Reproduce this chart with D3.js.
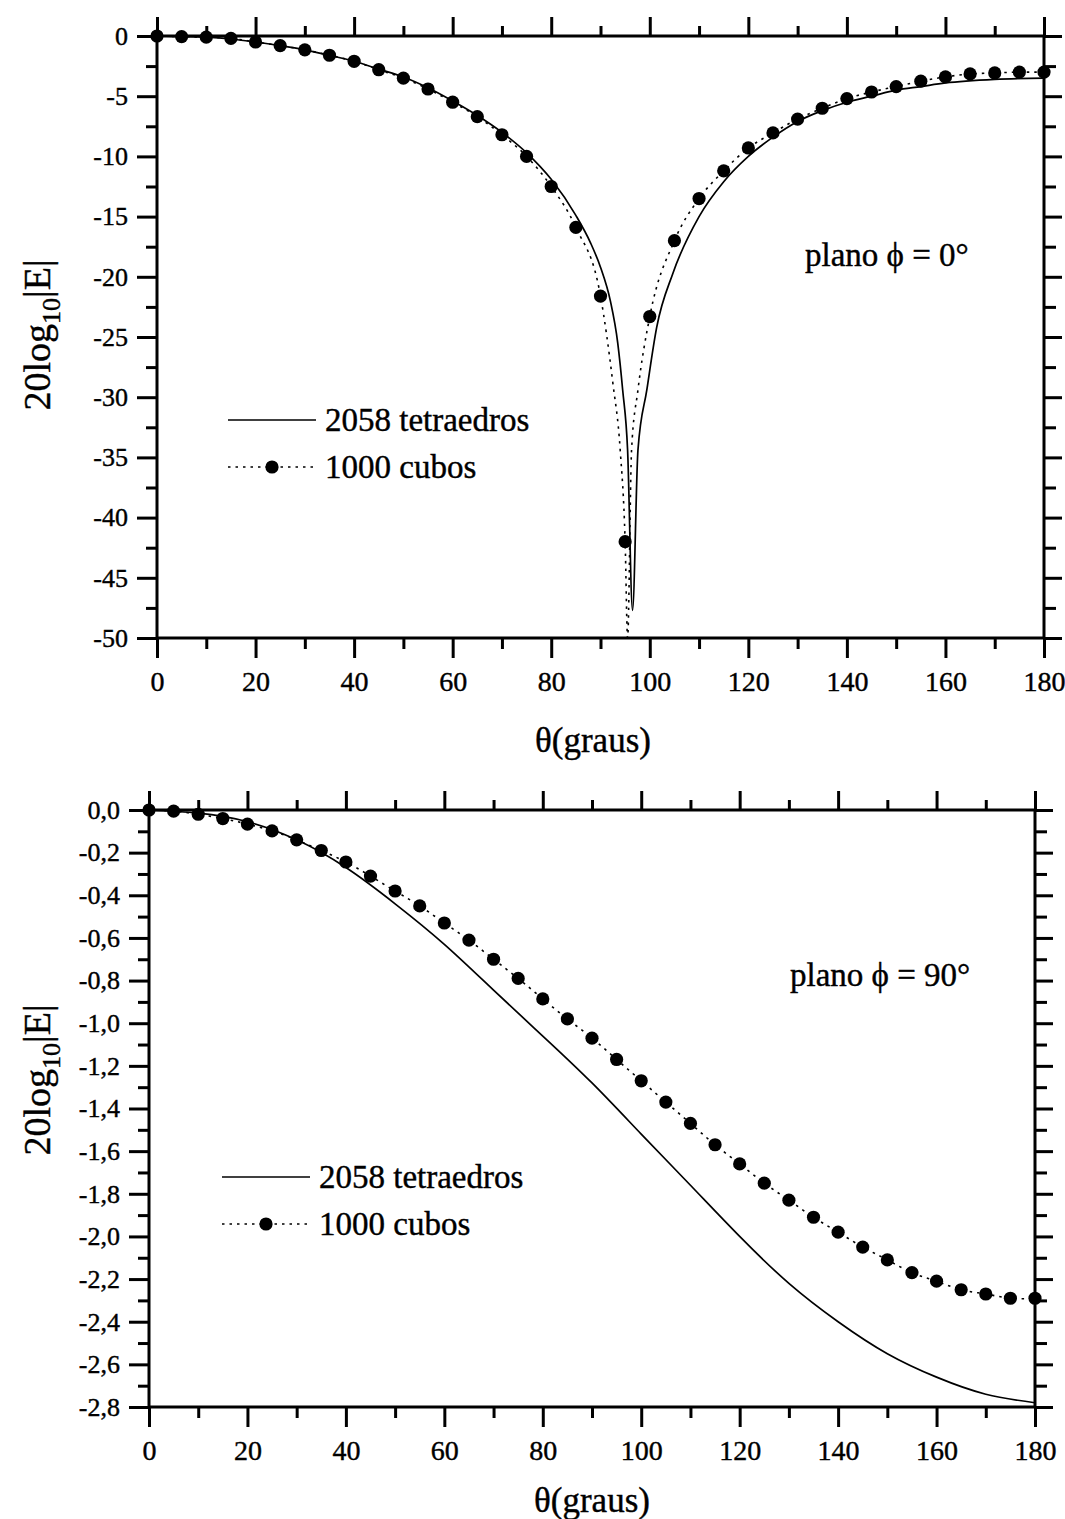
<!DOCTYPE html>
<html>
<head>
<meta charset="utf-8">
<script src="https://cdn.jsdelivr.net/npm/d3@7"></script>
<style>
  body { margin: 0; background: #fff; }
  svg { display: block; }
  text { font-family: "Liberation Serif", "Times New Roman", serif; fill: #000; }
</style>
</head>
<body>
<div id="chart"></div>
<script>
// ---------------------------------------------------------------
// Field pattern, 20log10|E| vs theta — two planes, two meshes
// ---------------------------------------------------------------

// theta positions of the "1000 cubos" markers (every 5 degrees)
const markTheta = [0, 5, 10, 15, 20, 25, 30, 35, 40, 45, 50, 55, 60, 65, 70, 75, 80, 85, 90, 95,
  100, 105, 110, 115, 120, 125, 130, 135, 140, 145, 150, 155, 160, 165, 170, 175, 180];

// plane phi = 0  (top)
const topCubosMarks = [0, -0.05, -0.1, -0.2, -0.5, -0.8, -1.15, -1.6, -2.1, -2.8, -3.5, -4.4, -5.5, -6.7,
  -8.2, -10.0, -12.5, -15.9, -21.6, -42.0, -23.3, -17.0, -13.5, -11.2, -9.3, -8.05, -6.9, -6.0, -5.2,
  -4.65, -4.2, -3.75, -3.4, -3.15, -3.07, -3.0, -3.0];
// extra points of the dotted curve around the null
const topCubosDipTheta = [92.5, 94, 95.5, 96.3, 97.6];
const topCubosDipValue = [-28.8, -34.4, -50, -34.4, -29.4];

const topTetraTheta = [0, 5, 10, 15, 20, 25, 30, 35, 40, 45, 50, 55, 60, 65, 70, 75, 80, 85, 88, 90, 92,
  93.5, 94.5, 95.5, 96.5, 97.6, 99.4, 101.4, 104.7, 110, 115, 120, 125, 130, 135, 140, 145, 150, 155,
  160, 170, 180];
const topTetraValue = [0, -0.05, -0.1, -0.25, -0.5, -0.8, -1.15, -1.6, -2.1, -2.75, -3.4, -4.3, -5.4, -6.6,
  -8.0, -9.7, -11.9, -14.9, -17.2, -19.2, -22.0, -25.5, -29.4, -34.4, -47.7, -34.4, -29.4, -24.2, -19.7,
  -15.0, -12.1, -10.0, -8.4, -7.1, -6.2, -5.5, -5.0, -4.5, -4.2, -3.9, -3.6, -3.5];

// plane phi = 90  (bottom)
const botCubosMarks = [0, -0.005, -0.02, -0.04, -0.066, -0.098, -0.14, -0.19, -0.244, -0.31, -0.38, -0.45,
  -0.53, -0.61, -0.70, -0.79, -0.886, -0.98, -1.07, -1.17, -1.27, -1.37, -1.47, -1.57, -1.66, -1.75,
  -1.83, -1.91, -1.98, -2.05, -2.11, -2.17, -2.21, -2.25, -2.27, -2.29, -2.29];

const botTetraTheta = [0, 10, 20, 30, 40, 50, 60, 70, 80, 90, 100, 110, 120, 130, 140, 150, 160, 170, 180];
const botTetraValue = [0, -0.015, -0.055, -0.14, -0.27, -0.44, -0.63, -0.845, -1.06, -1.28, -1.52, -1.76,
  -2.0, -2.22, -2.40, -2.55, -2.66, -2.74, -2.78];

// ticks
const xTicks = [0, 20, 40, 60, 80, 100, 120, 140, 160, 180];
const topYTicks = [0, -5, -10, -15, -20, -25, -30, -35, -40, -45, -50];
const botYTicks = [0, -0.2, -0.4, -0.6, -0.8, -1.0, -1.2, -1.4, -1.6, -1.8, -2.0, -2.2, -2.4, -2.6, -2.8];

const seriesNames = ["2058 tetraedros", "1000 cubos"];

// ---------------------------------------------------------------
const width = 1065, height = 1519;
const svg = d3.select("#chart").append("svg")
  .attr("width", width)
  .attr("height", height);

const zip = (a, b) => a.map((t, i) => ({ t, v: b[i] }));
const midpoints = arr => arr.slice(1).map((d, i) => (d + arr[i]) / 2);

function drawPanel(p, idx) {
  const x = d3.scaleLinear().domain([0, 180]).range([p.left, p.right]);
  const y = d3.scaleLinear().domain([0, p.yTicks[p.yTicks.length - 1]]).range([p.top, p.bottom]);
  const g = svg.append("g");

  g.append("clipPath").attr("id", "clip" + idx)
    .append("rect")
    .attr("x", p.left).attr("y", p.top)
    .attr("width", p.right - p.left).attr("height", p.bottom - p.top);

  // ticks: major (long, labelled) and minor (short), on all four sides
  const xMinor = midpoints(xTicks);
  const yMinor = midpoints(p.yTicks);
  const noLabel = () => "";

  const axes = [
    [d3.axisBottom(x).tickValues(xTicks).tickSize(20).tickPadding(13).tickFormat(d => d), `translate(0,${p.bottom})`, "x"],
    [d3.axisBottom(x).tickValues(xMinor).tickSize(11).tickFormat(noLabel), `translate(0,${p.bottom})`],
    [d3.axisTop(x).tickValues(xTicks).tickSize(19).tickFormat(noLabel), `translate(0,${p.top})`],
    [d3.axisTop(x).tickValues(xMinor).tickSize(10).tickFormat(noLabel), `translate(0,${p.top})`],
    [d3.axisLeft(y).tickValues(p.yTicks).tickSize(20).tickPadding(9).tickFormat(p.fmt), `translate(${p.left},0)`, "y"],
    [d3.axisLeft(y).tickValues(yMinor).tickSize(11).tickFormat(noLabel), `translate(${p.left},0)`],
    [d3.axisRight(y).tickValues(p.yTicks).tickSize(18).tickFormat(noLabel), `translate(${p.right},0)`],
    [d3.axisRight(y).tickValues(yMinor).tickSize(12).tickFormat(noLabel), `translate(${p.right},0)`]
  ];
  axes.forEach(([ax, tr, kind]) => {
    const a = g.append("g").attr("transform", tr).call(ax);
    a.select(".domain").remove();
    a.selectAll("line").attr("stroke", "#000").attr("stroke-width", 3);
    a.selectAll("text")
      .style("font-size", kind === "x" ? "28px" : "26px")
      .attr("stroke", "#000").attr("stroke-width", 0.4);
  });

  // frame
  g.append("rect")
    .attr("x", p.left).attr("y", p.top)
    .attr("width", p.right - p.left).attr("height", p.bottom - p.top)
    .attr("fill", "none").attr("stroke", "#000").attr("stroke-width", 3);

  const line = d3.line().x(d => x(d.t)).y(d => y(d.v)).curve(p.curve);
  const plot = g.append("g").attr("clip-path", `url(#clip${idx})`);

  // 2058 tetraedros — solid
  plot.append("path")
    .datum(zip(p.tetraTheta, p.tetraValue))
    .attr("d", line)
    .attr("fill", "none").attr("stroke", "#000").attr("stroke-width", 1.7);

  // 1000 cubos — dotted with markers
  const marks = zip(markTheta, p.cubosMarks);
  const cubosLine = marks.concat(zip(p.dipTheta, p.dipValue)).sort((a, b) => a.t - b.t);
  plot.append("path")
    .datum(cubosLine)
    .attr("d", line)
    .attr("fill", "none").attr("stroke", "#000").attr("stroke-width", 1.6)
    .attr("stroke-dasharray", "2.5,5");

  g.append("g").selectAll("circle")
    .data(marks)
    .enter().append("circle")
    .attr("cx", d => x(d.t))
    .attr("cy", d => y(d.v))
    .attr("r", 6.6)
    .attr("fill", "#000");

  // axis titles
  g.append("text")
    .attr("x", p.titleX).attr("y", p.titleY)
    .attr("text-anchor", "middle")
    .style("font-size", "35px")
    .attr("stroke", "#000").attr("stroke-width", 0.4)
    .text("θ(graus)");

  const yl = g.append("text")
    .attr("transform", `translate(${p.ylabX},${p.ylabY}) rotate(-90)`)
    .attr("text-anchor", "middle")
    .style("font-size", "38px")
    .attr("stroke", "#000").attr("stroke-width", 0.4);
  yl.append("tspan").text("20log");
  yl.append("tspan").text("10").attr("dy", 10).style("font-size", "26px");
  yl.append("tspan").text("|E|").attr("dy", -10);

  // plane note
  g.append("text")
    .attr("x", p.noteX).attr("y", p.noteY)
    .style("font-size", "33px")
    .attr("stroke", "#000").attr("stroke-width", 0.4)
    .text(p.note);

  // legend
  const lg = g.append("g").attr("transform", `translate(${p.legX},${p.legY})`);
  lg.append("line")
    .attr("x1", 0).attr("x2", 88).attr("y1", 0).attr("y2", 0)
    .attr("stroke", "#000").attr("stroke-width", 1.7);
  lg.append("line")
    .attr("x1", 0).attr("x2", 88).attr("y1", 47).attr("y2", 47)
    .attr("stroke", "#000").attr("stroke-width", 1.6)
    .attr("stroke-dasharray", "2.5,5");
  lg.append("circle").attr("cx", 44).attr("cy", 47).attr("r", 6.6).attr("fill", "#000");
  lg.selectAll("text.leg")
    .data(seriesNames)
    .enter().append("text")
    .attr("class", "leg")
    .attr("x", 97)
    .attr("y", (d, i) => i * 47 + 11)
    .style("font-size", "33px")
    .attr("stroke", "#000").attr("stroke-width", 0.4)
    .text(d => d);
}

const panels = [
  {
    left: 157, right: 1044, top: 36, bottom: 638,
    yTicks: topYTicks, fmt: d => String(d), curve: d3.curveMonotoneX,
    cubosMarks: topCubosMarks, dipTheta: topCubosDipTheta, dipValue: topCubosDipValue,
    tetraTheta: topTetraTheta, tetraValue: topTetraValue,
    titleX: 593, titleY: 752, ylabX: 50, ylabY: 335,
    note: "plano ϕ = 0°", noteX: 805, noteY: 266,
    legX: 228, legY: 420
  },
  {
    left: 149, right: 1035, top: 810, bottom: 1407,
    yTicks: botYTicks, fmt: d => d.toFixed(1).replace(".", ","), curve: d3.curveNatural,
    cubosMarks: botCubosMarks, dipTheta: [], dipValue: [],
    tetraTheta: botTetraTheta, tetraValue: botTetraValue,
    titleX: 592, titleY: 1512, ylabX: 50, ylabY: 1080,
    note: "plano ϕ = 90°", noteX: 790, noteY: 986,
    legX: 222, legY: 1177
  }
];

panels.forEach(drawPanel);
</script>
</body>
</html>
